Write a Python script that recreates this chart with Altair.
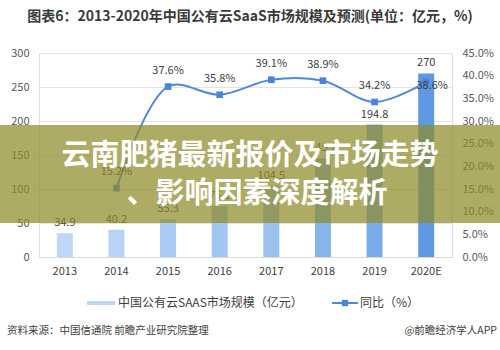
import altair as alt
import pandas as pd

years = ["2013", "2014", "2015", "2016", "2017", "2018", "2019", "2020E"]
market = [34.9, 40.2, 55.3, 75.1, 104.5, 145.2, 194.8, 270.0]
growth = [None, 15.2, 37.6, 35.8, 39.1, 38.9, 34.2, 38.6]
bar_colors = ["#bdd7f6", "#b7d3f5", "#aacbf2", "#a1c5f0", "#9bc1ef", "#87b4ea", "#79abe8", "#5e98e3"]
left_ticks = [0, 50, 100, 150, 200, 250, 300]
right_ticks = [0, 0.05, 0.10, 0.15, 0.20, 0.25, 0.30, 0.35, 0.40, 0.45]

title_text = "图表6：2013-2020年中国公有云SaaS市场规模及预测(单位：亿元，%)"
banner_line1 = "云南肥猪最新报价及市场走势"
banner_line2 = "、影响因素深度解析"
legend_bar = "中国公有云SAAS市场规模（亿元）"
legend_line = "同比（%）"
source_text = "资料来源：中国信通院 前瞻产业研究院整理"
brand_text = "@前瞻经济学人APP"

df = pd.DataFrame({
    "year": years,
    "size": market,
    "yoy": [g / 100 if g is not None else None for g in growth],
})

FONT = "Noto Sans CJK SC"
LINE_COLOR = "#4f89db"

xscale = alt.Scale(domain=years, paddingInner=0.69, paddingOuter=0.345)
x = alt.X("year:O", scale=xscale, sort=years,
          axis=alt.Axis(title=None, labelAngle=0, labelFontSize=11, labelColor="#404040",
                        labelPadding=8, ticks=False, domainColor="#d9d9d9", labelFont=FONT))

yl = alt.Y("size:Q", scale=alt.Scale(domain=[0, 300], nice=False),
           axis=alt.Axis(title=None, values=left_ticks, orient="left", grid=True,
                         gridColor="#e3e3e3", ticks=False, domain=False,
                         labelFontSize=11, labelColor="#595959", labelPadding=10, labelFont=FONT))

yr = alt.Y("yoy:Q", scale=alt.Scale(domain=[0, 0.45], nice=False),
           axis=alt.Axis(title=None, values=right_ticks, orient="right", format=".1%", grid=False,
                         ticks=False, domain=False, labelFontSize=11, labelColor="#595959",
                         labelPadding=10, labelFont=FONT))

base = alt.Chart(df)

bars = base.mark_bar().encode(
    x=x, y=yl,
    color=alt.Color("year:N", scale=alt.Scale(domain=years, range=bar_colors), legend=None),
)
bar_labels = base.mark_text(dy=-10, fontSize=11, color="#404040", font=FONT).encode(
    x=x, y=yl,
    text=alt.Text("size:Q", format=".4~"),
)
left = alt.layer(bars, bar_labels)

line_base = base.transform_filter("datum.yoy != null")
line = line_base.mark_line(interpolate="catmull-rom", color=LINE_COLOR, strokeWidth=2).encode(x=x, y=yr)
points = line_base.mark_point(shape="square", filled=True, size=45, color="#4a84dc", opacity=1).encode(x=x, y=yr)
line_labels = line_base.transform_filter("datum.year != '2020E'").mark_text(
    dy=-16, fontSize=11, color="#404040", font=FONT).encode(
    x=x, y=yr, text=alt.Text("yoy:Q", format=".1%"))
last_label = line_base.transform_filter("datum.year == '2020E'").mark_text(
    dx=6, dy=4, fontSize=11, color="#404040", font=FONT).encode(
    x=x, y=yr, text=alt.Text("yoy:Q", format=".1%"))
right = alt.layer(line, points, line_labels, last_label)

one = alt.Data(values=[{"k": 1}])

banner = alt.Chart(one).mark_rect(color="#8f8a2a", opacity=0.72).encode(
    x=alt.value(-39), x2=alt.value(461), y=alt.value(72), y2=alt.value(170))
b1 = alt.Chart(one).mark_text(fontSize=29, fontWeight="bold", color="white", font=FONT,
                              align="center", baseline="middle").encode(
    x=alt.value(211), y=alt.value(103), text=alt.value(banner_line1))
b2 = alt.Chart(one).mark_text(fontSize=29, fontWeight="bold", color="white", font=FONT,
                              align="center", baseline="middle").encode(
    x=alt.value(218), y=alt.value(141), text=alt.value(banner_line2))

title = alt.Chart(one).mark_text(fontSize=14, fontWeight="bold", color="#3a3a3a", font=FONT,
                                 align="center", baseline="middle").encode(
    x=alt.value(211), y=alt.value(-36), text=alt.value(title_text))

leg_sw = alt.Chart(one).mark_rect(color="#bdd7f6").encode(
    x=alt.value(48), x2=alt.value(76), y=alt.value(248), y2=alt.value(252))
leg_t1 = alt.Chart(one).mark_text(fontSize=12, color="#404040", font=FONT, align="left",
                                  baseline="middle").encode(
    x=alt.value(79), y=alt.value(250), text=alt.value(legend_bar))
leg_ln = alt.Chart(one).mark_rule(color=LINE_COLOR, strokeWidth=2).encode(
    x=alt.value(293), x2=alt.value(319), y=alt.value(250))
leg_pt = alt.Chart(one).mark_point(shape="square", filled=True, size=40, color="#4a84dc", opacity=1).encode(
    x=alt.value(306), y=alt.value(250))
leg_t2 = alt.Chart(one).mark_text(fontSize=12, color="#404040", font=FONT, align="left",
                                  baseline="middle").encode(
    x=alt.value(321), y=alt.value(250), text=alt.value(legend_line))

src = alt.Chart(one).mark_text(fontSize=10.5, color="#404040", font=FONT, align="left",
                               baseline="middle").encode(
    x=alt.value(-32), y=alt.value(278), text=alt.value(source_text))
brand = alt.Chart(one).mark_text(fontSize=10.5, color="#404040", font=FONT, align="right",
                                 baseline="middle").encode(
    x=alt.value(458), y=alt.value(278), text=alt.value(brand_text))

chart = alt.layer(
    left, right, banner, b1, b2, title, leg_sw, leg_t1, leg_ln, leg_pt, leg_t2, src, brand
).resolve_scale(y="independent").properties(
    width=413, height=204,
    autosize=alt.AutoSizeParams(type="none"),
    padding={"left": 39, "top": 53, "right": 48, "bottom": 93},
    background="white",
).configure_view(strokeWidth=0).configure(font=FONT)

chart.save("out.html", embed_options={"renderer": "svg", "actions": False})
